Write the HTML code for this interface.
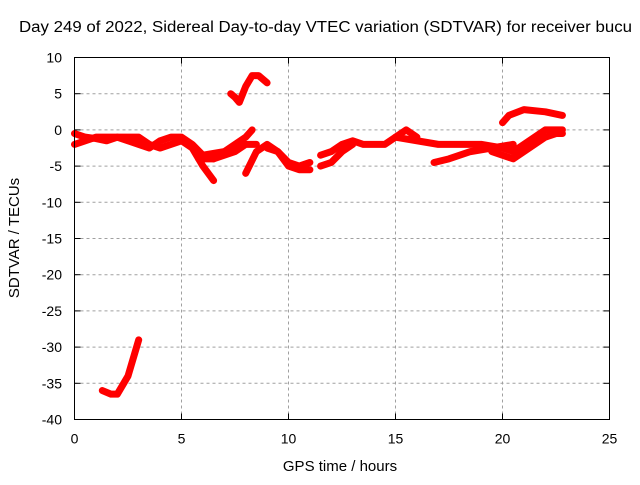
<!DOCTYPE html>
<html><head><meta charset="utf-8"><style>
body{margin:0;background:#fff}
svg text{font-family:"Liberation Sans",sans-serif;font-size:14px;fill:#000}
</style></head><body>
<svg id="c" width="640" height="480" xmlns="http://www.w3.org/2000/svg">
<text x="19" y="32" textLength="613" lengthAdjust="spacingAndGlyphs" style="font-size:15.5px">Day 249 of 2022, Sidereal Day-to-day VTEC variation (SDTVAR) for receiver bucu</text>
<text x="340" y="471" text-anchor="middle" style="font-size:15px">GPS time / hours</text>
<text transform="translate(19,238) rotate(-90)" text-anchor="middle" style="font-size:15px">SDTVAR / TECUs</text>
<g id="grid"></g><g id="series"></g><g id="axes"></g>
</svg>
<script>
const xTicks=[0,5,10,15,20,25];
const yTicks=[10,5,0,-5,-10,-15,-20,-25,-30,-35,-40];
const s1h=[0,0.5,1,1.5,2,2.5,3,3.5,4,4.5,5,5.5,6,6.5];
const s1v=[-0.5,-1,-1.2,-1.5,-1,-1.5,-2,-2.5,-1.5,-1,-1,-2,-3.5,-4];
const s2h=[0,0.5,1,2,3,3.5,4,4.5,5,5.5,6,6.5];
const s2v=[-2,-1.5,-1,-1,-1,-2,-2.5,-2,-1.5,-2.5,-5,-7];
const s3h=[5.8,6.5,7,7.5,8,8.5];
const s3v=[-4,-4,-3.5,-3,-2,-2];
const s4h=[6,7,8,8.3];
const s4v=[-3.5,-3,-1,0];
const s5h=[8,8.5,9,9.5,10,10.5,11];
const s5v=[-6,-3,-2,-3,-5,-5.5,-5.5];
const s6h=[9,9.5,10,10.5,11];
const s6v=[-2.5,-3,-4.5,-5,-4.5];
const s7h=[7.3,7.5,7.7,8,8.3,8.6,9];
const s7v=[5,4.5,3.8,6,7.5,7.5,6.5];
const s8h=[11.5,12,12.5,13,13.5,14,14.5,15,15.5,16];
const s8v=[-3.5,-3,-2,-1.5,-2,-2,-2,-1,0,-1];
const s9h=[11.5,12,12.5,13];
const s9v=[-5,-4.5,-3,-2];
const s10h=[15,16,17,18,19,20,20.5];
const s10v=[-1,-1.5,-2,-2,-2,-2.5,-3];
const s11h=[16.8,17.5,18.5,19.5,20.5];
const s11v=[-4.5,-4,-3,-2.5,-2];
const s12h=[19.5,20.5,21,21.5,22,22.5,22.8];
const s12v=[-3,-4,-3,-2,-1,-0.5,-0.5];
const s13h=[20.5,21,21.5,22,22.8];
const s13v=[-3,-2,-1,0,0];
const s14h=[20,20.3,21,22,22.8];
const s14v=[1,2,2.8,2.5,2];
const s15h=[1.3,1.7,2,2.5,2.8,3];
const s15v=[-36,-36.5,-36.5,-34,-31,-29];
const allSeries=[[s1h,s1v],[s2h,s2v],[s3h,s3v],[s4h,s4v],[s5h,s5v],[s6h,s6v],[s7h,s7v],[s8h,s8v],[s9h,s9v],[s10h,s10v],[s11h,s11v],[s12h,s12v],[s13h,s13v],[s14h,s14v],[s15h,s15v]];
const L=74.5,R=609.5,T=57.5,B=419.5;
const X=h=>L+(h-0)/25*(R-L);
const Y=v=>T+(10-v)/50*(B-T);
const NS="http://www.w3.org/2000/svg";
function mk(t,a,p){const e=document.createElementNS(NS,t);for(const k in a)e.setAttribute(k,a[k]);p.appendChild(e);return e;}
const grid=document.getElementById('grid'),axes=document.getElementById('axes'),ser=document.getElementById('series');
xTicks.forEach(t=>{
 if(t>0&&t<25){const g=mk('line',{x1:X(t),x2:X(t),y1:T,y2:B,stroke:'#a0a0a0','stroke-dasharray':'3,3'},grid);
 
 }
 mk('line',{x1:X(t),x2:X(t),y1:B,y2:B-6,stroke:'#000'},axes);
 mk('line',{x1:X(t),x2:X(t),y1:T,y2:T+6,stroke:'#000'},axes);
 const tx=mk('text',{x:X(t),y:B+24,'text-anchor':'middle'},axes);tx.textContent=t;
 
 
});
yTicks.forEach(t=>{
 if(t<10&&t>-40){const g=mk('line',{x1:L,x2:R,y1:Y(t),y2:Y(t),stroke:'#a0a0a0','stroke-dasharray':'3,3'},grid);
 
 }
 mk('line',{x1:L,x2:L+6,y1:Y(t),y2:Y(t),stroke:'#000'},axes);
 mk('line',{x1:R,x2:R-6,y1:Y(t),y2:Y(t),stroke:'#000'},axes);
 const tx=mk('text',{x:62,y:Y(t)+5,'text-anchor':'end'},axes);tx.textContent=t;
 
 
});
const fr=mk('rect',{x:L,y:T,width:R-L,height:B-T,fill:'none',stroke:'#000'},axes);


allSeries.forEach(([hs,vs])=>{
 const p=mk('polyline',{points:hs.map((h,i)=>X(h)+','+Y(vs[i])).join(' '),fill:'none',stroke:'#f00','stroke-width':7,'stroke-linejoin':'round','stroke-linecap':'round'},ser);
 
 
});
</script>
</body></html>
